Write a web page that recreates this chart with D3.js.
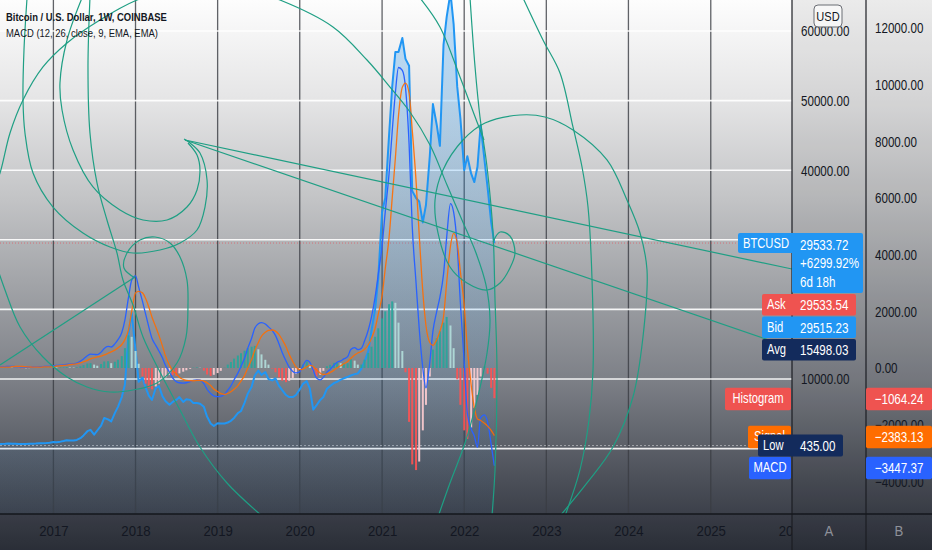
<!DOCTYPE html>
<html><head><meta charset="utf-8">
<script src="https://cdn.jsdelivr.net/npm/d3@7"></script>
<style>
html,body{margin:0;padding:0;background:#2c303b;overflow:hidden;}
svg{display:block;}
text{font-family:"Liberation Sans",Arial,sans-serif;}
</style></head><body>
<svg id="c" width="932" height="550"></svg>
<script>
// ---------- data ----------
const title = "Bitcoin / U.S. Dollar, 1W, COINBASE";
const subtitle = "MACD (12, 26, close, 9, EMA, EMA)";
const priceTicks = [0, 10000, 20000, 30000, 40000, 50000, 60000];
const macdTicks = [-4000, -2000, 0, 2000, 4000, 6000, 8000, 10000, 12000];
const yearTicks = [2017, 2018, 2019, 2020, 2021, 2022, 2023, 2024, 2025, 2026];
// semi-monthly samples (1st and 15th) May 2016 .. May 2022
const dates = d3.utcMonth.range(new Date(Date.UTC(2016,4,1)), new Date(Date.UTC(2022,5,1)))
  .flatMap(m => [m, d3.utcDay.offset(m, 14)]);

const price = [650,660,680,720,700,680,660,650,660,680,700,720,760,780,800,850,
 950,920,1000,1080,1200,1150,1150,1250,1500,1900,2500,2700,2000,2600,3300,4400,4200,3900,5100,6000,
 7400,9200,16500,19500,14200,9600,
 10200,8800,7600,7000,8700,9000,7500,6800,6300,6700,7000,7400,6700,7100,7000,6550,6550,6450,6000,4600,3600,3250,
 3650,3600,3600,3750,4000,4400,5100,5400,6600,7900,8900,10500,11200,10600,11000,10000,9800,10100,9000,8400,7700,7400,7400,7700,
 8500,9300,9700,8600,5600,6200,7000,7400,8600,9000,9400,9600,9900,10100,10300,10500,10700,10800,11500,12500,
 14000,17000,20000,24500,
 34000,36000,45000,52000,57000,57000,59000,56000,55000,37000,36000,35500,32500,35000,42000,49500,46500,43500,58000,62000,
 65500,61000,52000,47500,40000,42000,39500,38300,40500,46500,41500,37500,32500,29533.72];

const macd = [40,45,50,55,55,50,45,40,35,35,35,40,45,50,55,60,80,90,100,110,130,140,150,170,
 240,320,430,490,480,470,560,690,760,740,850,1000,1250,1700,2500,3100,3250,2850,
 2350,1900,1450,1050,800,600,350,80,-150,-350,
 -480,-520,-530,-520,-480,-440,-420,-430,-550,-750,
 -900,-980,-1010,-1000,-920,-780,-630,-420,-180,60,
 350,700,1050,1400,1560,1600,1550,1450,1320,1150,
 850,550,250,30,-120,-170,-130,80,270,200,
 -80,-350,-420,-330,-150,-50,100,200,250,320,
 400,650,720,650,700,950,
 1350,1800,2500,3300,4300,5500,6850,8350,9700,10600,
 10500,9900,7900,5000,3000,1400,0,-700,200,1300,
 2000,2500,3300,4600,5800,5500,4300,2300,200,-1600,
 -2150,-2400,-2800,-1750,-1650,-1900,-2700,-3447.37];

const signal = [30,30,30,30,45,55,55,55,45,40,30,30,30,35,40,40,50,70,80,90,100,120,135,145,
 180,220,270,320,360,390,420,460,520,570,630,710,830,1000,1350,2000,2650,2700,
 2650,2450,2150,1800,1450,1150,770,410,100,-100,
 -200,-330,-400,-440,-450,-450,-440,-440,-460,-520,
 -620,-740,-830,-900,-930,-900,-840,-750,-620,-460,
 -260,0,300,620,900,1120,1260,1330,1340,1300,
 1180,1000,750,480,230,40,-60,-40,40,90,
 50,-60,-180,-230,-210,-160,-80,10,80,150,
 230,340,460,530,580,660,
 820,1050,1400,1900,2550,3500,4600,6000,7400,8900,
 9900,10050,9700,8400,6600,4700,2700,1500,900,800,
 1000,1300,1800,3000,4300,4750,4400,3400,2200,700,
 -600,-1400,-1800,-1850,-1950,-2050,-2200,-2383.13];

const hist = [10,15,20,25,10,-5,-10,-15,-10,-5,5,10,15,15,15,20,30,20,20,20,30,20,15,25,
 60,100,160,170,120,80,140,230,240,170,220,290,420,700,1150,1100,600,150,
 -300,-550,-700,-750,-650,-550,-420,-330,-250,-250,
 -280,-190,-130,-80,-30,10,20,10,-90,-230,
 -280,-240,-180,-100,10,120,210,330,440,520,
 610,700,750,780,660,480,290,120,-20,-150,
 -330,-450,-500,-450,-350,-210,-70,120,230,110,
 -130,-290,-240,-100,60,110,180,190,170,170,
 170,310,260,120,120,290,
 530,750,1100,1400,1750,2000,2250,2350,2300,1600,
 600,-150,-1900,-3400,-3600,-3300,-2200,-1300,-300,650,
 1050,1300,1600,1800,1500,700,-400,-1300,-2200,-2500,
 -2100,-1400,-950,-300,60,-200,-700,-1064.24];

// last values shown in labels
const lastPrice = 29533.72, changePct = "+6299.92%", countdown = "6d 18h";
const ask = 29533.54, bid = 29515.23, avg = 15498.03, low = 435.00;
const lastHist = -1064.24, lastSignal = -2383.13, lastMacd = -3447.37;

// drawing tools, in [decimal year, price in thousands]
const trendLines = [
  [[2018.602,44.34],[2025.990,25.80]],
  [[2018.602,44.34],[2025.990,14.45]],
  [[2016.350,12.01],[2017.993,24.66]]
];
const spiralPeak = [[2017.993,24.52],[2017.859,25.95],[2017.896,28.10],[2018.054,29.97],[2018.237,30.40],[2018.419,29.54],[2018.541,27.53],[2018.626,24.22],[2018.638,20.63],[2018.614,16.03],[2018.504,12.30],[2018.261,9.43],[2017.969,8.42],[2017.689,8.13],[2017.409,8.85],[2017.166,10.29],[2016.873,13.16],[2016.594,17.47],[2016.411,22.79],[2016.253,28.53],[2016.180,33.56],[2016.265,37.16],[2016.350,39.60],[2016.472,45.35],[2016.630,50.09],[2016.873,54.83],[2017.166,58.28],[2017.567,61.58],[2018.018,64.45],[2018.602,66.47],[2019.210,66.47],[2019.758,64.45],[2020.403,60.58],[2020.817,55.83],[2021.097,51.95],[2021.340,48.36],[2021.584,43.62],[2021.791,37.87],[2021.973,32.85],[2022.144,28.10],[2022.265,23.51],[2022.314,18.48],[2022.278,13.74],[2022.156,6.98],[2022.010,0.80],[2021.827,-4.94],[2021.681,-9.83]];
const arcA = [[2016.679,64.74],[2016.642,57.27],[2016.630,50.09],[2016.654,45.35],[2016.752,39.60],[2016.995,34.71],[2017.360,30.98],[2017.689,28.97],[2017.969,28.10],[2018.297,28.53],[2018.541,29.54],[2018.748,31.41],[2018.845,34.71],[2018.870,38.59],[2018.784,42.47],[2018.663,43.91],[2018.590,44.48]];
const arcB = [[2017.348,64.74],[2017.166,58.71],[2017.080,52.53],[2017.105,48.65],[2017.239,42.90],[2017.482,37.59],[2017.811,34.28],[2018.091,32.85],[2018.383,32.85],[2018.626,34.71],[2018.748,37.16],[2018.784,40.03],[2018.748,42.18],[2018.638,43.91]];
const arcD = [[2017.445,64.74],[2017.421,54.83],[2017.445,45.35],[2017.531,38.16],[2017.652,32.85],[2017.774,28.10],[2017.847,24.22],[2017.969,20.63],[2018.091,16.03],[2018.297,11.01],[2018.541,5.55],[2018.784,0.23],[2019.113,-4.94],[2019.539,-9.68]];
const spiralLast = [[2022.351,29.68],[2022.436,31.12],[2022.557,30.55],[2022.618,28.10],[2022.557,25.95],[2022.436,23.79],[2022.278,22.79],[2022.034,23.79],[2021.827,26.09],[2021.681,30.98],[2021.645,35.72],[2021.742,40.03],[2021.985,44.34],[2022.253,46.78],[2022.679,47.93],[2022.983,47.64],[2023.324,45.78],[2023.738,41.47],[2023.981,35.72],[2024.140,30.98],[2024.225,25.66],[2024.176,16.03],[2024.054,7.41],[2023.811,0.23],[2023.495,-4.94],[2023.166,-9.68]];
const arcF = [[2022.716,64.74],[2022.959,58.71],[2023.166,53.97],[2023.324,46.21],[2023.434,40.46],[2023.507,34.71],[2023.556,24.22],[2023.568,11.29],[2023.519,4.11],[2023.409,-3.07],[2023.227,-9.68]];
const arcH = [[2022.071,64.74],[2022.132,54.83],[2022.192,47.64],[2022.278,40.46],[2022.351,30.98],[2022.375,21.35],[2022.399,11.29],[2022.375,-3.07],[2022.338,-9.68]];
const arcK = [[2021.462,64.74],[2021.705,60.58],[2021.949,53.39],[2022.156,46.93],[2022.241,44.34]];

// ---------- layout ----------
const W = 932, H = 550, PR = 792, PB = 514, BX = 866;
const svg = d3.select("#c");
const defs = svg.append("defs");

const x = d3.scaleUtc()
  .domain([new Date(Date.UTC(2017,0,1)), new Date(Date.UTC(2022,0,1))])
  .range([53.4, 464.2]);
const yA = d3.scaleLinear().domain([0, 60000]).range([448.6, 31]);
const yB = d3.scaleLinear().domain([0, 12000]).range([368, 27.8]);
const yr2date = yr => new Date(Date.UTC(2017,0,1) + (yr - 2017) * 365.2 * 864e5);

// background gradient
const bg = defs.append("linearGradient").attr("id","bg").attr("gradientUnits","userSpaceOnUse")
  .attr("x1",0).attr("y1",0).attr("x2",0).attr("y2",H);
[[0,"#fdfdfd"],[0.18,"#e5e5e6"],[0.36,"#c3c4c6"],[0.51,"#a3a5a9"],[0.69,"#7d8087"],[0.87,"#4c5059"],[0.935,"#3c404a"],[1,"#2d313b"]]
  .forEach(s => bg.append("stop").attr("offset",s[0]).attr("stop-color",s[1]));
const ag = defs.append("linearGradient").attr("id","areaG").attr("gradientUnits","userSpaceOnUse")
  .attr("x1",0).attr("y1",0).attr("x2",0).attr("y2",PB);
ag.append("stop").attr("offset",0).attr("stop-color","#2196f3").attr("stop-opacity",0.3);
ag.append("stop").attr("offset",1).attr("stop-color","#2196f3").attr("stop-opacity",0.03);
defs.append("clipPath").attr("id","plotClip").append("rect").attr("x",0).attr("y",0).attr("width",PR).attr("height",PB);
defs.append("clipPath").attr("id","timeClip").append("rect").attr("x",0).attr("y",PB).attr("width",PR).attr("height",H-PB);

svg.append("rect").attr("width",W).attr("height",H).attr("fill","url(#bg)");
svg.append("rect").attr("x",PR).attr("y",0).attr("width",W-PR).attr("height",H).attr("fill","rgba(0,0,0,0.07)");
svg.append("rect").attr("x",0).attr("y",PB).attr("width",PR).attr("height",H-PB).attr("fill","rgba(0,0,0,0.05)");

const plot = svg.append("g").attr("clip-path","url(#plotClip)");

// grid
plot.append("g").selectAll("line").data(yearTicks).join("line")
  .attr("x1", d => x(new Date(Date.UTC(d,0,1)))).attr("x2", d => x(new Date(Date.UTC(d,0,1))))
  .attr("y1",0).attr("y2",PB).attr("stroke","#3a3c42").attr("stroke-opacity",0.8).attr("stroke-width",1.3);
plot.append("g").selectAll("line").data(priceTicks).join("line")
  .attr("x1",0).attr("x2",PR).attr("y1", d => yA(d)).attr("y2", d => yA(d))
  .attr("stroke","#ffffff").attr("stroke-opacity",0.9).attr("stroke-width",1.6);
// last price line and low line
plot.append("line").attr("x1",0).attr("x2",PR).attr("y1",yA(lastPrice)).attr("y2",yA(lastPrice))
  .attr("stroke","#f23645").attr("stroke-opacity",0.55).attr("stroke-width",1).attr("stroke-dasharray","1,2");
plot.append("line").attr("x1",0).attr("x2",PR).attr("y1",yA(low)).attr("y2",yA(low))
  .attr("stroke","#ffffff").attr("stroke-opacity",0.45).attr("stroke-width",1).attr("stroke-dasharray","2,2");

const rows = dates.map((d,i) => ({d, p: price[i], m: macd[i], s: signal[i], h: hist[i], hp: i ? hist[i-1] : hist[i]}));

// price area + line
plot.append("path").datum(rows)
  .attr("d", d3.area().x(r => x(r.d)).y0(PB).y1(r => yA(r.p)))
  .attr("fill","url(#areaG)");
plot.append("path").datum(rows)
  .attr("d", d3.line().x(r => x(r.d)).y(r => yA(r.p)))
  .attr("fill","none").attr("stroke","#2196f3").attr("stroke-width",2).attr("stroke-linejoin","round");

// MACD histogram
const histColor = r => r.h >= 0 ? (r.h >= r.hp ? "#26a69a" : "#b2dfdb") : (r.h > r.hp ? "#ffcdd2" : "#ff5252");
plot.append("g").selectAll("rect").data(rows).join("rect")
  .attr("x", r => x(r.d) - 1).attr("width", 2)
  .attr("y", r => Math.min(yB(r.h), yB(0))).attr("height", r => Math.abs(yB(r.h) - yB(0)))
  .attr("fill", histColor).attr("fill-opacity",0.9);
plot.append("path").datum(rows)
  .attr("d", d3.line().x(r => x(r.d)).y(r => yB(r.m)).curve(d3.curveMonotoneX))
  .attr("fill","none").attr("stroke","#2962ff").attr("stroke-width",1.3);
plot.append("path").datum(rows)
  .attr("d", d3.line().x(r => x(r.d)).y(r => yB(r.s)).curve(d3.curveMonotoneX))
  .attr("fill","none").attr("stroke","#ff6d00").attr("stroke-opacity",0.9).attr("stroke-width",1.3);

// drawing tools
const toolColor = "#1f9f84";
const annLine = d3.line().x(p => x(yr2date(p[0]))).y(p => yA(p[1]*1000));
const annCurve = d3.line().x(p => x(yr2date(p[0]))).y(p => yA(p[1]*1000)).curve(d3.curveCatmullRom.alpha(0.5));
const tools = plot.append("g").attr("fill","none").attr("stroke",toolColor).attr("stroke-width",1.2);
trendLines.forEach(l => tools.append("path").attr("d", annLine(l)));
[spiralPeak, arcA, arcB, arcD, spiralLast, arcF, arcH, arcK].forEach(c => tools.append("path").attr("d", annCurve(c)));

// text helper (condensed glyphs like the reference)
function txt(parent, tx, ty, str, opt) {
  opt = opt || {};
  const t = parent.append("text").text(str)
    .attr("transform", `translate(${tx},${ty}) scale(${opt.k || 0.8},1)`)
    .attr("font-size", opt.size || 14)
    .attr("fill", opt.fill || "#131722")
    .attr("dominant-baseline", opt.base || "central")
    .attr("text-anchor", opt.anchor || "start");
  if (opt.weight) t.attr("font-weight", opt.weight);
  return t;
}
txt(svg, 6, 20.5, title, {size: 11.8, weight: 700, base: "auto"});
txt(svg, 6, 36.7, subtitle, {size: 11.8, base: "auto"});

// price label boxes (positions derived from values, stacked)
const yl = yA(lastPrice);
const stackA = [["Ask", ask, "#ef5350"], ["Bid", bid, "#2196f3"], ["Avg", avg, "#132b5c"]]
  .map((s, i) => ({lab: s[0], v: s[1], c: s[2], top: yl + 51 + i * 22.5}));
const ylow = yA(low);
// ranges on price axis covered by labels
const coveredA = [[yl - 10, yl + 50]].concat(stackA.map(s => [s.top, s.top + 21.5])).concat([[ylow - 11, ylow + 11]]);

// axes
const fmt = d3.format(".2f");
const visibleA = priceTicks.filter(v => !coveredA.some(r => yA(v) > r[0] - 6 && yA(v) < r[1] + 6));
const gA = svg.append("g").attr("transform", `translate(${PR},0)`)
  .call(d3.axisRight(yA).tickValues(visibleA).tickSize(0).tickFormat(fmt));
const gB = svg.append("g").attr("transform", `translate(${BX},0)`)
  .call(d3.axisRight(yB).tickValues(macdTicks).tickSize(0).tickFormat(fmt));
[gA, gB].forEach(g => {
  g.select(".domain").remove();
  g.selectAll("text").attr("x", 0).attr("dy", null).attr("dominant-baseline","central")
    .attr("transform","translate(9,0) scale(0.8,1)")
    .attr("font-size",14.5).attr("font-family",'"Liberation Sans",Arial,sans-serif').attr("fill","#131722");
});
const gTwrap = svg.append("g").attr("clip-path","url(#timeClip)");
const gT = gTwrap.append("g").attr("transform", `translate(0,${PB})`)
  .call(d3.axisBottom(x).tickValues(yearTicks.map(yv => new Date(Date.UTC(yv,0,1)))).tickSize(0).tickFormat(d3.utcFormat("%Y")));
gT.select(".domain").remove();
gT.selectAll("text").attr("y", 0).attr("dy", null).attr("dominant-baseline","central")
  .attr("transform","translate(0,17) scale(0.88,1)")
  .attr("font-size",15).attr("font-family",'"Liberation Sans",Arial,sans-serif').attr("fill","#131722");
txt(svg, 829, 531, "A", {size: 15, k: 0.88, anchor: "middle", fill: "#8e919a"});
txt(svg, 899, 531, "B", {size: 15, k: 0.88, anchor: "middle", fill: "#8e919a"});

// separators
svg.append("line").attr("x1",PR).attr("x2",PR).attr("y1",0).attr("y2",H).attr("stroke","#1b1d23").attr("stroke-width",1.2);
svg.append("line").attr("x1",BX).attr("x2",BX).attr("y1",0).attr("y2",H).attr("stroke","#1b1d23").attr("stroke-width",1.2);
svg.append("line").attr("x1",0).attr("x2",W).attr("y1",PB).attr("y2",PB).attr("stroke","#15171c").attr("stroke-width",1.5);

// USD box
svg.append("rect").attr("x",814).attr("y",5).attr("width",28).attr("height",22).attr("rx",4)
  .attr("fill","rgba(250,250,250,0.8)").attr("stroke","#6b6e75").attr("stroke-width",1);
txt(svg, 828, 16.5, "USD", {size: 13, k: 0.85, anchor: "middle"});

// labels
const L = svg.append("g");
function box(x0, y0, w, h, fill) {
  L.append("rect").attr("x",x0).attr("y",y0).attr("width",w).attr("height",h).attr("rx",2).attr("fill",fill);
}
const white = "#ffffff";
box(738, yl-10, 125, 20, "#2196f3");
box(792, yl+8, 71, 42, "#2196f3");
txt(L, 743, yl+1, "BTCUSD", {size: 14, fill: white});
txt(L, 800, yl+1.5, fmt(lastPrice), {size: 14.5, fill: white});
txt(L, 800, yl+19.7, changePct, {size: 14.5, fill: white});
txt(L, 800, yl+38.5, countdown, {size: 14.5, fill: white});
stackA.forEach(s => {
  box(762, s.top, 94, 21.5, s.c);
  txt(L, 767, s.top + 11, s.lab, {size: 14, fill: white});
  txt(L, 800, s.top + 11, fmt(s.v), {size: 14.5, fill: white});
});
const minus = v => (v < 0 ? "\u2212" : "") + fmt(Math.abs(v));
[["Histogram", lastHist, "#ef5350", 725, 0.8], ["Signal", lastSignal, "#ff6d00", 748, 1.4], ["MACD", lastMacd, "#2962ff", 749, 2.3]].forEach(([lab, v, c, x0, off]) => {
  const cy = yB(v) + off;
  box(x0, cy - 11.2, PR - 1 - x0, 22.4, c);
  txt(L, (x0 + PR - 1) / 2, cy, lab, {size: 14, fill: white, anchor: "middle"});
  box(BX, cy - 11.2, W - BX, 22.4, c);
  txt(L, 899, cy, minus(v), {size: 14.5, fill: white, anchor: "middle"});
});
box(758, ylow - 11, 85, 22, "#132b5c");
txt(L, 763, ylow, "Low", {size: 14, fill: white});
txt(L, 800, ylow, fmt(low), {size: 14.5, fill: white});
</script>
</body></html>
